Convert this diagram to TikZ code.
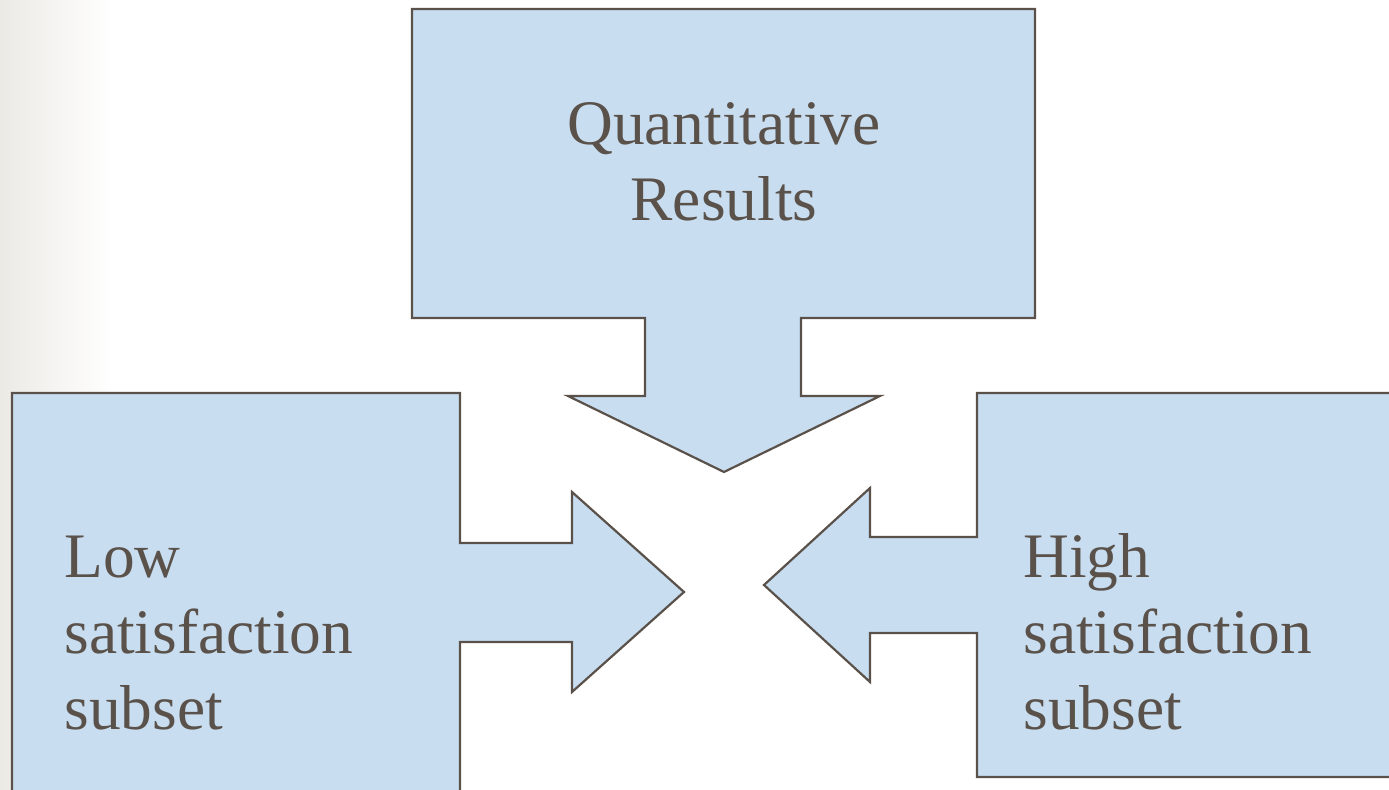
\documentclass[tikz,border=0pt]{standalone}
\usepackage{fontspec}
\setmainfont{Liberation Serif}
\usepackage{tikz}
\usetikzlibrary{shapes,arrows,positioning}
\usepackage[dvipsnames]{xcolor}

\definecolor{boxblue}{HTML}{C8DDF0}
\definecolor{boxline}{HTML}{5A524A}
\definecolor{slidegrey}{HTML}{ECEAE5}

\begin{document}
\begin{tikzpicture}[x=0.5pt, y=-0.5pt,
    calloutbox/.style={draw=boxline, fill=boxblue, line width=1.1pt, line join=miter},
    boxtext/.style={text=boxline, inner sep=0pt, font=\fontsize{31.7}{38}\selectfont}]

\useasboundingbox (0,0) rectangle (1389,790);
\clip (0,0) rectangle (1389,790);
\fill[left color=slidegrey, right color=white] (0,0) rectangle (113,790);

% top callout, pointing down
\draw[calloutbox] (412,9) -- (1035,9) -- (1035,318) -- (801,318) -- (801,396) -- (880,396)
    -- (724,472) -- (568,396) -- (645,396) -- (645,318) -- (412,318) -- cycle;
% left callout, pointing right
\draw[calloutbox] (12,393) -- (460,393) -- (460,543) -- (572,543) -- (572,492)
    -- (684,592) -- (572,692) -- (572,642) -- (460,642) -- (460,800) -- (12,800) -- cycle;
% right callout, pointing left
\draw[calloutbox] (1400,393) -- (977,393) -- (977,537) -- (870,537) -- (870,488)
    -- (764,585) -- (870,682) -- (870,633) -- (977,633) -- (977,777) -- (1400,777) -- cycle;

\node[boxtext, align=center, anchor=north] (Quant) at (724,102) {Quantitative\\Results};
\node[boxtext, align=left, anchor=north west] (Low) at (64,536) {Low\\satisfaction\\subset};
\node[boxtext, align=left, anchor=north west] (High) at (1023,533) {High\\satisfaction\\subset};

\end{tikzpicture}
\end{document}
